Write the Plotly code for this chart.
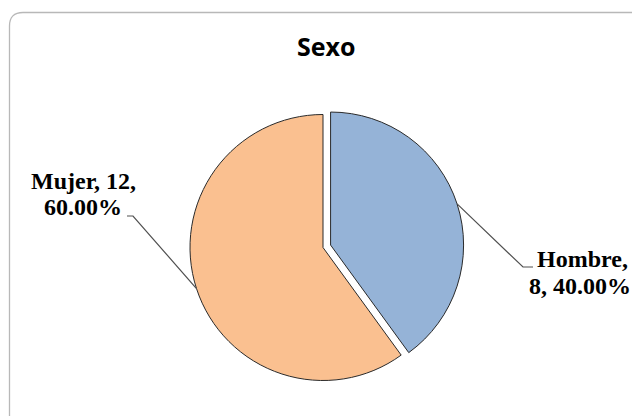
import math
import plotly.graph_objects as go

# ---- data ----
categories = ["Hombre", "Mujer"]
values = [8, 12]
colors = ["#95B3D7", "#FAC090"]
pulls = [0.06, 0.0]
title_text = "Sexo"
# where each data label wraps: after the name (1) or after the count (2)
wrap_after = [1, 2]

W, H = 632, 416
total = sum(values)
pcts = [v / total * 100 for v in values]

# pie box (pixels)
cx, cy = 323, 247.5
r = 133
maxpull = max(pulls)
half = r * (1 + maxpull)


def px(x):
    return x / W


def py(y):
    return 1 - y / H


fig = go.Figure(go.Pie(
    labels=categories,
    values=values,
    sort=False,
    direction="clockwise",
    rotation=0,
    pull=pulls,
    marker=dict(colors=colors, line=dict(color="#2a2a2a", width=1)),
    textinfo="none",
    hoverinfo="label+value+percent",
    domain=dict(x=[px(cx - half), px(cx + half)], y=[py(cy + half), py(cy - half)]),
    showlegend=False,
))

# label layout (pixel positions of the elbow, label line centers)
label_style = {
    "Hombre": dict(elbow=(523, 267), tail=(533, 267), l1=(582, 259), l2=(580, 286)),
    "Mujer": dict(elbow=(133, 216), tail=(127, 216), l1=(84, 181), l2=(83, 207)),
}

annotations = []
shapes = []
cum = 0
for name, v, p, pull, wa in zip(categories, values, pcts, pulls, wrap_after):
    mid = (cum + v / 2) / total * 2 * math.pi
    cum += v
    ox = cx + pull * r * math.sin(mid)
    oy = cy - pull * r * math.cos(mid)
    ex = ox + r * math.sin(mid)
    ey = oy - r * math.cos(mid)
    parts = [name, str(v), f"{p:.2f}%"]
    line1 = ", ".join(parts[:wa]) + ","
    line2 = ", ".join(parts[wa:])
    st = label_style[name]
    shapes.append(dict(
        type="path", xref="paper", yref="paper",
        path=f"M {px(ex)},{py(ey)} L {px(st['elbow'][0])},{py(st['elbow'][1])} L {px(st['tail'][0])},{py(st['tail'][1])}",
        line=dict(color="#505050", width=1.2),
    ))
    for txt, (lx, ly) in ((line1, st["l1"]), (line2, st["l2"])):
        annotations.append(dict(
            text=f"<b>{txt}</b>", x=px(lx), y=py(ly), xref="paper", yref="paper",
            xanchor="center", yanchor="middle", showarrow=False,
            font=dict(family="Liberation Serif, Times New Roman, serif", size=24, color="#000000"),
        ))

annotations.append(dict(
    text=f"<b>{title_text}</b>", x=px(326), y=py(46), xref="paper", yref="paper",
    xanchor="center", yanchor="middle", showarrow=False,
    font=dict(family="Open Sans, sans-serif", size=25, color="#000000"),
))

# chart frame with rounded corner
shapes.append(dict(
    type="path", xref="paper", yref="paper",
    path=(f"M {px(9.5)},{py(430)} L {px(9.5)},{py(26)} "
          f"Q {px(9.5)},{py(12.5)} {px(23)},{py(12.5)} L {px(650)},{py(12.5)}"),
    line=dict(color="#b8b8b8", width=1.3),
    layer="below",
))

fig.update_layout(
    width=W, height=H,
    margin=dict(l=0, r=0, t=0, b=0),
    paper_bgcolor="#ffffff",
    plot_bgcolor="#ffffff",
    annotations=annotations,
    shapes=shapes,
)

fig.write_html("out.html")
